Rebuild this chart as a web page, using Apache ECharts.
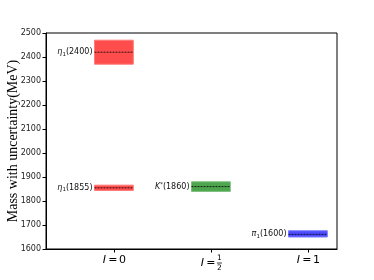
<!DOCTYPE html>
<html><head><meta charset="utf-8">
<script src="https://cdn.jsdelivr.net/npm/echarts@6/dist/echarts.min.js"></script>
<style>html,body{margin:0;padding:0;background:#fff}#c{width:374px;height:280px}</style>
</head><body><div id="c"></div>
<script>
// ---- data ----
const particles = ['η', 'η', 'K', 'π'];
const subscripts = ['1', '1', '', '1'];
const superscripts = ['', '', '*', ''];
const nominal = ['2400', '1855', '1860', '1600'];
const xPosition = [0, 0, 1, 2];
const centralMass = [2420, 1855, 1860, 1661];
const lowerMass = [2370, 1844, 1840, 1650];
const upperMass = [2470, 1866, 1880, 1676];
const fillColors = ['#ff4d4d', '#ff4d4d', '#4da64d', '#4d4dff'];
const edgeColors = ['#ff7a7a', '#ff7a7a', '#7cbf7c', '#7a7aff'];
const xTickValues = [0, 1, 2];
const xTickLabels = ['0', '1/2', '1'];
const yTicks = [1600, 1700, 1800, 1900, 2000, 2100, 2200, 2300, 2400, 2500];

const data = xPosition.map((x, i) => [x, lowerMass[i], upperMass[i], centralMass[i]]);
const halfWidth = 0.2;

const labelRich = {
  it: { fontFamily: 'DejaVu Sans', fontStyle: 'italic', fontSize: 8, fill: '#111' },
  sub: { fontFamily: 'DejaVu Sans', fontSize: 5.5, fill: '#111', padding: [4, 0, 0, 0] },
  sup: { fontFamily: 'DejaVu Sans', fontSize: 5.5, fill: '#111', padding: [0, 0, 5, 0] },
  t: { fontFamily: 'DejaVu Sans', fontSize: 8, fill: '#111' }
};
function labelText(i) {
  let s = '{it|' + particles[i] + '}';
  if (subscripts[i]) s += '{sub|' + subscripts[i] + '}';
  if (superscripts[i]) s += '{sup|' + superscripts[i] + '}';
  s += '{t|(' + nominal[i] + ')}';
  return s;
}

function renderItem(params, api) {
  const i = params.dataIndex;
  const x = api.value(0), lo = api.value(1), hi = api.value(2), c = api.value(3);
  const tl = api.coord([x - halfWidth, hi]);
  const br = api.coord([x + halfWidth, lo]);
  const cl = api.coord([x - halfWidth, c]);
  const cr = api.coord([x + halfWidth, c]);
  return {
    type: 'group',
    children: [
      { type: 'rect', shape: { x: tl[0], y: tl[1], width: br[0] - tl[0], height: br[1] - tl[1] },
        style: { fill: fillColors[i], stroke: edgeColors[i], lineWidth: 1 } },
      { type: 'line', shape: { x1: cl[0], y1: cl[1], x2: cr[0], y2: cr[1] },
        style: { stroke: '#000', lineWidth: 0.8, lineDash: [2, 1] } },
      { type: 'text', x: tl[0] - 2, y: cl[1],
        style: { text: labelText(i), rich: labelRich, align: 'right', verticalAlign: 'middle' } }
    ]
  };
}

function xFormatter(v) {
  const idx = xTickValues.indexOf(Math.round(v));
  const lab = xTickLabels[idx];
  if (lab.indexOf('/') >= 0) {
    const [n, d] = lab.split('/');
    return '{sp|}{n|' + n + '}\n{i|I}{eq|=}{bar|}\n{sp|}{n|' + d + '}';
  }
  return '{i|I}{eq|=}{v|' + lab + '}';
}

const chart = echarts.init(document.getElementById('c'), null, { renderer: 'canvas' });
chart.setOption({
  animation: false,
  backgroundColor: '#fff',
  grid: { left: 46, top: 33, right: 37, bottom: 31, show: true, borderColor: '#000', borderWidth: 1,
          backgroundColor: 'transparent', containLabel: false, outerBoundsMode: 'none' },
  xAxis: {
    type: 'value', min: -0.7, max: 2.3,
    splitLine: { show: false },
    axisLine: { onZero: false, lineStyle: { color: '#000', width: 1 } },
    axisTick: { show: true, customValues: xTickValues, length: 3.5, lineStyle: { color: '#000' } },
    axisLabel: {
      customValues: xTickValues, margin: 5, formatter: xFormatter, color: '#000',
      rich: {
        i: { fontFamily: 'DejaVu Sans', fontStyle: 'italic', fontSize: 11, width: 5, lineHeight: 2, height: 2 },
        eq: { fontFamily: 'DejaVu Sans', fontSize: 11, width: 12, align: 'center', lineHeight: 2, height: 2 },
        v: { fontFamily: 'DejaVu Sans', fontSize: 11, lineHeight: 13 },
        bar: { width: 5, height: 0.8, lineHeight: 2, backgroundColor: '#000' },
        sp: { width: 17, fontSize: 7, lineHeight: 8 },
        n: { fontFamily: 'DejaVu Sans', fontSize: 7.5, width: 5, align: 'center', lineHeight: 8 }
      }
    }
  },
  yAxis: {
    type: 'value', min: 1600, max: 2500, interval: 100,
    name: 'Mass with uncertainty(MeV)', nameLocation: 'middle', nameGap: 26, nameMoveOverlap: false,
    nameTextStyle: { fontFamily: 'Liberation Serif', fontSize: 14, color: '#000' },
    splitLine: { show: false },
    axisLine: { show: true, onZero: false, lineStyle: { color: '#000', width: 1 } },
    axisTick: { show: true, length: 3.5, lineStyle: { color: '#000' } },
    axisLabel: { fontFamily: 'DejaVu Sans', fontSize: 8, color: '#222', margin: 5,
                 formatter: v => String(v) }
  },
  series: [{
    type: 'custom',
    renderItem: renderItem,
    data: data,
    clip: false
  }]
});
</script>
</body></html>
